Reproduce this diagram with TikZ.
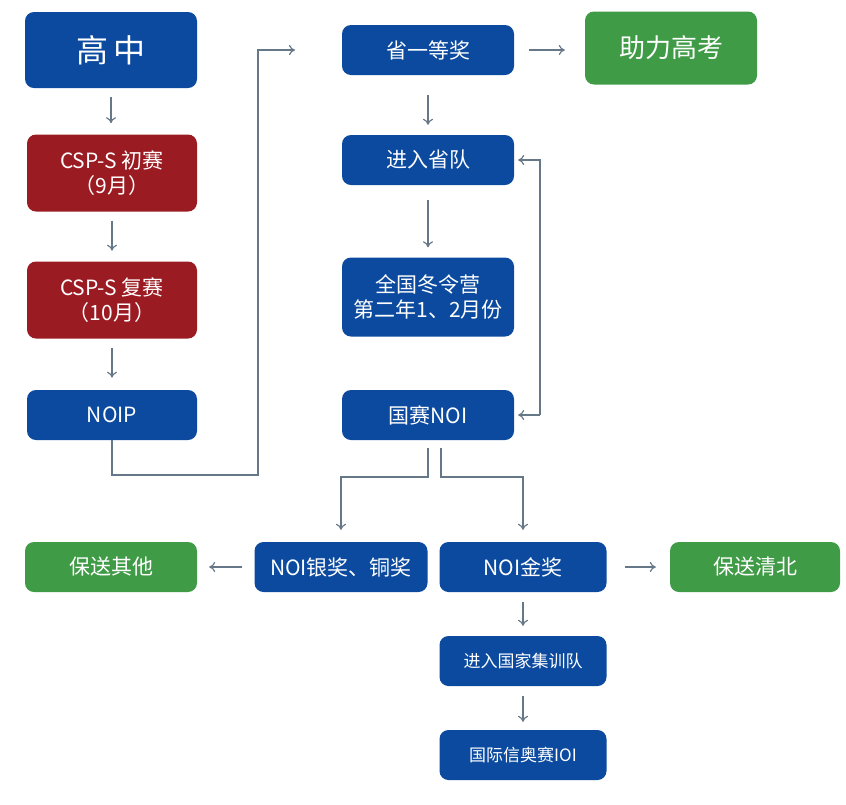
\documentclass[tikz,border=0pt]{standalone}
\usepackage{fontspec}
\setmainfont{Noto Sans CJK SC}
\usetikzlibrary{arrows.meta,calc}
\definecolor{boxblue}{HTML}{0B4A9E}
\definecolor{boxred}{HTML}{9B1B22}
\definecolor{boxgreen}{HTML}{3F9B46}
\definecolor{linegray}{HTML}{667788}
\tikzset{
  box/.style={rounded corners=9pt,text=white,align=center,minimum width=172pt,minimum height=50pt,inner sep=0pt,font=\fontsize{21}{25}\selectfont},
  bluebox/.style={box,fill=boxblue},
  redbox/.style={box,fill=boxred,minimum height=77pt},
  greenbox/.style={box,fill=boxgreen},
  flow/.style={draw=linegray,line width=1.2pt,-{To[length=6pt,width=10pt]}}
}
\begin{document}
\begin{tikzpicture}[x=1pt,y=-1pt]
\useasboundingbox (0,0) rectangle (846,804);
% left column
\node[bluebox,minimum height=76pt,font=\fontsize{32}{36}\selectfont] (gaozhong) at (111,50) {高\,中};
\node[redbox,minimum width=170pt] (chusai) at (112,173) {CSP-S 初赛\\（9月）};
\node[redbox,minimum width=170pt] (fusai) at (112,300) {CSP-S 复赛\\（10月）};
\node[bluebox,minimum width=170pt] (noip) at (112,415) {NOIP};
% middle column
\node[bluebox] (shengyi) at (428,50) {省一等奖};
\node[greenbox,minimum height=73pt,font=\fontsize{26}{30}\selectfont] (gaokao) at (671,48) {助力高考};
\node[bluebox] (shengdui) at (428,160) {进入省队};
\node[bluebox,minimum height=79pt] (dongling) at (428,297) {全国冬令营\\第二年1、2月份};
\node[bluebox] (noi) at (428,415) {国赛NOI};
% bottom rows
\node[bluebox,minimum width=173pt] (yinjiang) at (341,567) {NOI银奖、铜奖};
\node[bluebox,minimum width=167pt] (jinjiang) at (523,567) {NOI金奖};
\node[greenbox] (qita) at (111,567) {保送其他};
\node[greenbox,minimum width=170pt] (qingbei) at (755,567) {保送清北};
\node[bluebox,minimum width=167pt,font=\fontsize{17}{20}\selectfont] (jixun) at (523,661) {进入国家集训队};
\node[bluebox,minimum width=167pt,font=\fontsize{17}{20}\selectfont] (ioi) at (523,755) {国际信奥赛IOI};
\coordinate (turnA) at (112,475);
\coordinate (turnB) at (258,475);
\coordinate (turnC) at (258,50);
\coordinate (loopA) at (540,415);
\coordinate (loopB) at (540,160);
\coordinate (splitL) at (428,477);
\coordinate (splitR) at (441,477);
% connectors
\draw[flow] (gaozhong.south) ++(0,9) -- ++(0,26);
\draw[flow] (chusai.south) ++(0,9) -- ++(0,30);
\draw[flow] (fusai.south) ++(0,9) -- ++(0,30);
\draw[flow] (noip.south) -- (turnA) -- (turnB) -- (turnC) -- ($(turnC)+(37,0)$);
\draw[flow] ($(shengyi.east)+(15,0)$) -- ($(gaokao.west)+(-20,2)$);
\draw[flow] ($(shengyi.south)+(0,20)$) -- ($(shengdui.north)+(0,-10)$);
\draw[flow] ($(shengdui.south)+(0,15)$) -- ($(dongling.north)+(0,-10)$);
\draw[flow] (loopA) -- ($(noi.east)+(4,0)$);
\draw[flow] (loopA) -- (loopB) -- ($(shengdui.east)+(4,0)$);
\draw[flow] ($(noi.south)+(0,8)$) -- (splitL) -- (splitL -| yinjiang) -- ($(yinjiang.north)+(0,-12)$);
\draw[flow] ($(noi.south)+(13,8)$) -- (splitR) -- (splitR -| jinjiang) -- ($(jinjiang.north)+(0,-12)$);
\draw[flow] ($(yinjiang.west)+(-12,0)$) -- ($(qita.east)+(12,0)$);
\draw[flow] ($(jinjiang.east)+(18,0)$) -- ($(qingbei.west)+(-14,0)$);
\draw[flow] ($(jinjiang.south)+(0,10)$) -- ($(jixun.north)+(0,-10)$);
\draw[flow] ($(jixun.south)+(0,10)$) -- ($(ioi.north)+(0,-8)$);
\end{tikzpicture}
\end{document}
